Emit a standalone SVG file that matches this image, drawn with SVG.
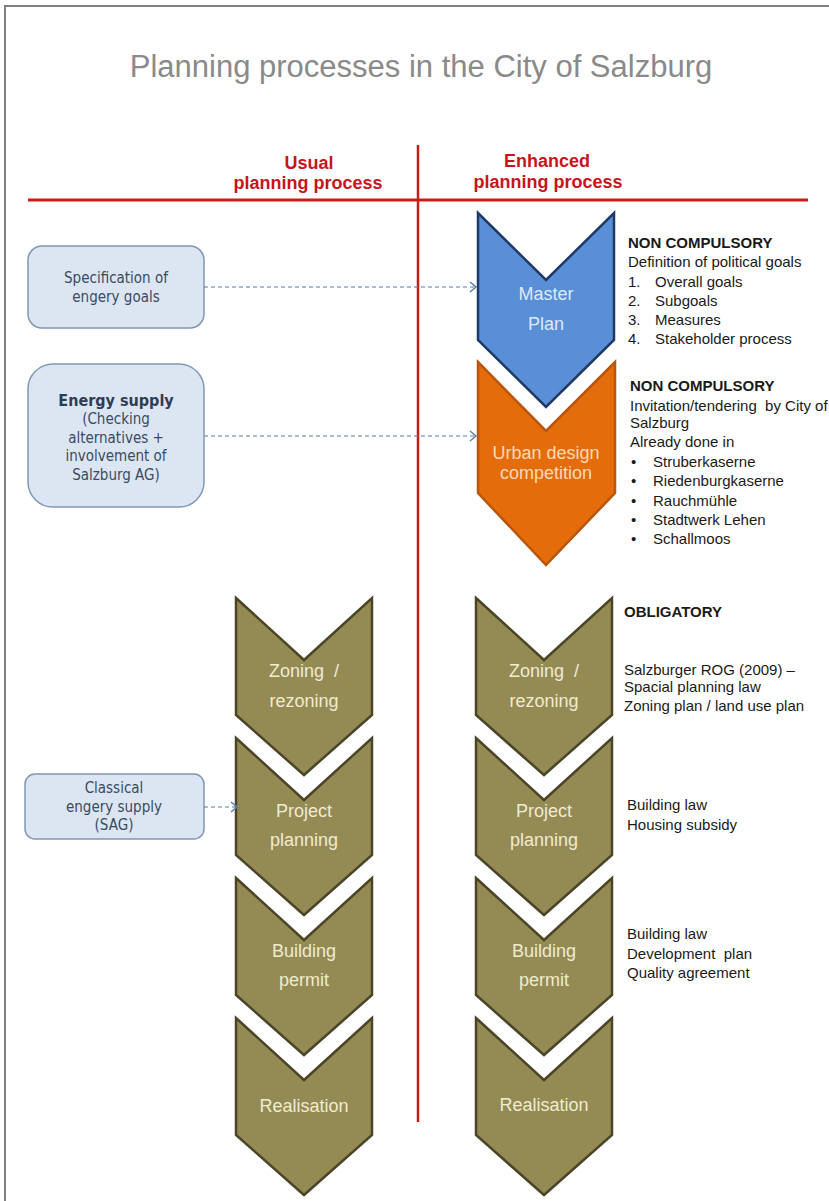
<svg xmlns="http://www.w3.org/2000/svg" width="829" height="1201" viewBox="0 0 829 1201">
<style>
text{white-space:pre}
.title{font-family:"Liberation Sans",Arial,sans-serif;font-size:31px;fill:#8a8a8a;text-anchor:middle}
.hdr{font-family:"Liberation Sans",Arial,sans-serif;font-size:18px;font-weight:bold;fill:#c8141c;text-anchor:middle}
.box{fill:#dce6f2;stroke:#8198b4;stroke-width:1.5}
.bt{font-family:"DejaVu Sans Condensed","DejaVu Sans",sans-serif;font-size:15px;fill:#3a4a62;text-anchor:middle}
.bb{font-weight:bold;font-size:16px;fill:#2e3d55}
.cl{font-family:"Liberation Sans",Arial,sans-serif;font-size:18px;text-anchor:middle}
.olive{fill:#948a54;stroke:#4b4528;stroke-width:2.5;stroke-linejoin:miter}
.ot{fill:#efecd0}
.desc{font-family:"Liberation Sans",Arial,sans-serif;font-size:15px;fill:#1a1a1a}
.db{font-weight:bold}
.conn{fill:none;stroke:#5a7fae;stroke-width:1.2;stroke-dasharray:4 3}
.red{stroke:#cc1a1a;fill:none}
</style>
<defs>
<marker id="arr" markerWidth="10" markerHeight="12" refX="8" refY="6" orient="auto" markerUnits="userSpaceOnUse">
<polyline points="2,1 8,6 2,11" fill="none" stroke="#5a7fae" stroke-width="1.5"/>
</marker>
</defs>
<rect x="5" y="6" width="830" height="1200" fill="#ffffff" stroke="#808080" stroke-width="2"/>
<text class="title" x="421" y="77">Planning processes in the City of Salzburg</text>
<g id="dividers">
<line class="red" x1="28" y1="200" x2="808" y2="200" stroke-width="3"/>
<line class="red" x1="418" y1="145" x2="418" y2="1122" stroke-width="2.5"/>
</g>
<g id="header-usual">
<text class="hdr" x="309" y="169">Usual</text>
<text class="hdr" x="308" y="189">planning process</text>
</g>
<g id="header-enhanced">
<text class="hdr" x="547" y="167">Enhanced</text>
<text class="hdr" x="548" y="188">planning process</text>
</g>
<g id="box-energy-goals">
<rect class="box" x="28" y="246" width="176" height="82" rx="14"/>
<text class="bt" x="116" y="283">Specification of</text>
<text class="bt" x="116" y="302">engery goals</text>
</g>
<g id="box-energy-supply">
<rect class="box" x="28" y="364" width="176" height="143" rx="25"/>
<text class="bt bb" x="116" y="406">Energy supply</text>
<text class="bt" x="116" y="424">(Checking</text>
<text class="bt" x="116" y="443">alternatives +</text>
<text class="bt" x="116" y="461">involvement of</text>
<text class="bt" x="116" y="480">Salzburg AG)</text>
</g>
<g id="box-classical">
<rect class="box" x="25" y="774" width="179" height="65" rx="10"/>
<text class="bt" x="114" y="793">Classical</text>
<text class="bt" x="114" y="812">engery supply</text>
<text class="bt" x="114" y="830">(SAG)</text>
</g>
<g id="master-plan">
<polygon points="478,213 546,280 614,213 614,340 546,407 478,340" fill="#588fd7" stroke="#1f3a66" stroke-width="2.5"/>
<text class="cl" x="546" y="300" fill="#dfe9f6">Master</text>
<text class="cl" x="546" y="330" fill="#dfe9f6">Plan</text>
</g>
<g id="urban-design">
<polygon points="478,362 546,431 615,362 615,493 546,565 478,493" fill="#e46c0a" stroke="#b8560e" stroke-width="2.5"/>
<text class="cl" x="546" y="459" fill="#fcd9b6">Urban design</text>
<text class="cl" x="546" y="479" fill="#fcd9b6">competition</text>
</g>
<g id="usual-zoning">
<polygon class="olive" points="236,598 304,660 372,598 372,715 304,775 236,715"/>
<text class="cl ot" x="304" y="677">Zoning  /</text>
<text class="cl ot" x="304" y="707">rezoning</text>
</g>
<g id="usual-project">
<polygon class="olive" points="236,738 304,800 372,738 372,855 304,915 236,855"/>
<text class="cl ot" x="304" y="817">Project</text>
<text class="cl ot" x="304" y="846">planning</text>
</g>
<g id="usual-permit">
<polygon class="olive" points="236,878 304,940 372,878 372,995 304,1055 236,995"/>
<text class="cl ot" x="304" y="957">Building</text>
<text class="cl ot" x="304" y="986">permit</text>
</g>
<g id="usual-realisation">
<polygon class="olive" points="236,1018 304,1080 372,1018 372,1135 304,1195 236,1135"/>
<text class="cl ot" x="304" y="1112">Realisation</text>
</g>
<g id="enh-zoning">
<polygon class="olive" points="476,598 544,660 612,598 612,715 544,775 476,715"/>
<text class="cl ot" x="544" y="677">Zoning  /</text>
<text class="cl ot" x="544" y="707">rezoning</text>
</g>
<g id="enh-project">
<polygon class="olive" points="476,738 544,800 612,738 612,855 544,915 476,855"/>
<text class="cl ot" x="544" y="817">Project</text>
<text class="cl ot" x="544" y="846">planning</text>
</g>
<g id="enh-permit">
<polygon class="olive" points="476,878 544,940 612,878 612,995 544,1055 476,995"/>
<text class="cl ot" x="544" y="957">Building</text>
<text class="cl ot" x="544" y="986">permit</text>
</g>
<g id="enh-realisation">
<polygon class="olive" points="476,1018 544,1080 612,1018 612,1135 544,1195 476,1135"/>
<text class="cl ot" x="544" y="1111">Realisation</text>
</g>
<g id="desc-master">
<text class="desc db" x="628" y="248">NON COMPULSORY</text>
<text class="desc" x="628" y="267">Definition of political goals</text>
<text class="desc" x="628" y="287">1.</text><text class="desc" x="655" y="287">Overall goals</text>
<text class="desc" x="628" y="306">2.</text><text class="desc" x="655" y="306">Subgoals</text>
<text class="desc" x="628" y="325">3.</text><text class="desc" x="655" y="325">Measures</text>
<text class="desc" x="628" y="344">4.</text><text class="desc" x="655" y="344">Stakeholder process</text>
</g>
<g id="desc-urban">
<text class="desc db" x="630" y="391">NON COMPULSORY</text>
<text class="desc" x="630" y="411">Invitation/tendering  by City of</text>
<text class="desc" x="630" y="428">Salzburg</text>
<text class="desc" x="630" y="447">Already done in</text>
<text class="desc" x="631" y="467">•</text><text class="desc" x="653" y="467">Struberkaserne</text>
<text class="desc" x="631" y="486">•</text><text class="desc" x="653" y="486">Riedenburgkaserne</text>
<text class="desc" x="631" y="506">•</text><text class="desc" x="653" y="506">Rauchmühle</text>
<text class="desc" x="631" y="525">•</text><text class="desc" x="653" y="525">Stadtwerk Lehen</text>
<text class="desc" x="631" y="544">•</text><text class="desc" x="653" y="544">Schallmoos</text>
</g>
<g id="desc-zoning">
<text class="desc db" x="624" y="617">OBLIGATORY</text>
<text class="desc" x="624" y="675">Salzburger ROG (2009) –</text>
<text class="desc" x="624" y="692">Spacial planning law</text>
<text class="desc" x="624" y="711">Zoning plan / land use plan</text>
</g>
<g id="desc-project">
<text class="desc" x="627" y="810">Building law</text>
<text class="desc" x="627" y="830">Housing subsidy</text>
</g>
<g id="desc-permit">
<text class="desc" x="627" y="939">Building law</text>
<text class="desc" x="627" y="959">Development  plan</text>
<text class="desc" x="627" y="978">Quality agreement</text>
</g>
<g id="connectors">
<line class="conn" x1="204" y1="287" x2="476" y2="287" marker-end="url(#arr)"/>
<line class="conn" x1="204" y1="436" x2="476" y2="436" marker-end="url(#arr)"/>
<line class="conn" x1="204" y1="807" x2="237" y2="807" marker-end="url(#arr)"/>
</g>
</svg>
